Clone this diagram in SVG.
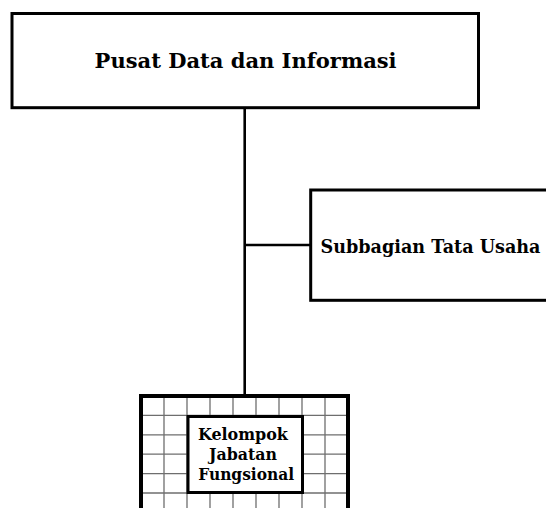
<svg xmlns="http://www.w3.org/2000/svg" width="546" height="508" viewBox="0 0 546 508">
  <style>
    .box { fill: #ffffff; stroke: #000000; stroke-width: 3; }
    .frame { fill: none; stroke: #000000; stroke-width: 4; }
    .inner { fill: #ffffff; stroke: #000000; stroke-width: 3; }
    .grid line { stroke: #6e6e6e; stroke-width: 1.3; }
    .link { stroke: #000000; stroke-width: 2.6; fill: none; }
    .label { font-family: "DejaVu Serif", "Liberation Serif", serif; font-weight: bold; fill: #000000; }
  </style>

  <rect width="546" height="508" fill="#ffffff"/>

  <!-- connectors -->
  <g id="connectors">
    <line class="link" x1="244.7" y1="108" x2="244.7" y2="396"/>
    <line class="link" x1="244.7" y1="245" x2="310.7" y2="245"/>
  </g>

  <!-- head unit -->
  <g id="node-pusat">
    <rect class="box" x="12" y="13.5" width="466.5" height="94.2"/>
    <text class="label" x="245.6" y="68" font-size="21" text-anchor="middle" textLength="302" lengthAdjust="spacingAndGlyphs">Pusat Data dan Informasi</text>
  </g>

  <!-- administrative subdivision -->
  <g id="node-subbagian">
    <rect class="box" x="310.7" y="190" width="260" height="110.3"/>
    <text class="label" x="320.5" y="252.7" font-size="18.5" textLength="220" lengthAdjust="spacingAndGlyphs">Subbagian Tata Usaha</text>
  </g>

  <!-- functional group on a grid frame -->
  <g id="node-kelompok">
    <g class="grid">
      <line x1="164" y1="396" x2="164" y2="508"/>
      <line x1="187" y1="396" x2="187" y2="508"/>
      <line x1="210" y1="396" x2="210" y2="508"/>
      <line x1="233" y1="396" x2="233" y2="508"/>
      <line x1="256" y1="396" x2="256" y2="508"/>
      <line x1="279" y1="396" x2="279" y2="508"/>
      <line x1="302" y1="396" x2="302" y2="508"/>
      <line x1="325" y1="396" x2="325" y2="508"/>
      <line x1="141" y1="415.4" x2="348" y2="415.4"/>
      <line x1="141" y1="434.8" x2="348" y2="434.8"/>
      <line x1="141" y1="454.2" x2="348" y2="454.2"/>
      <line x1="141" y1="473.6" x2="348" y2="473.6"/>
      <line x1="141" y1="493" x2="348" y2="493"/>
    </g>
    <rect class="frame" x="141" y="396" width="207" height="130"/>
    <rect class="inner" x="188" y="416.5" width="114.5" height="76"/>
    <text class="label" font-size="16" text-anchor="middle">
      <tspan x="245.7" y="440" textLength="90" lengthAdjust="spacingAndGlyphs">Kelompok</tspan>
      <tspan x="245.8" y="460" textLength="68" lengthAdjust="spacingAndGlyphs">Jabatan</tspan>
      <tspan x="246.2" y="480" textLength="96" lengthAdjust="spacingAndGlyphs">Fungsional</tspan>
    </text>
  </g>
</svg>
